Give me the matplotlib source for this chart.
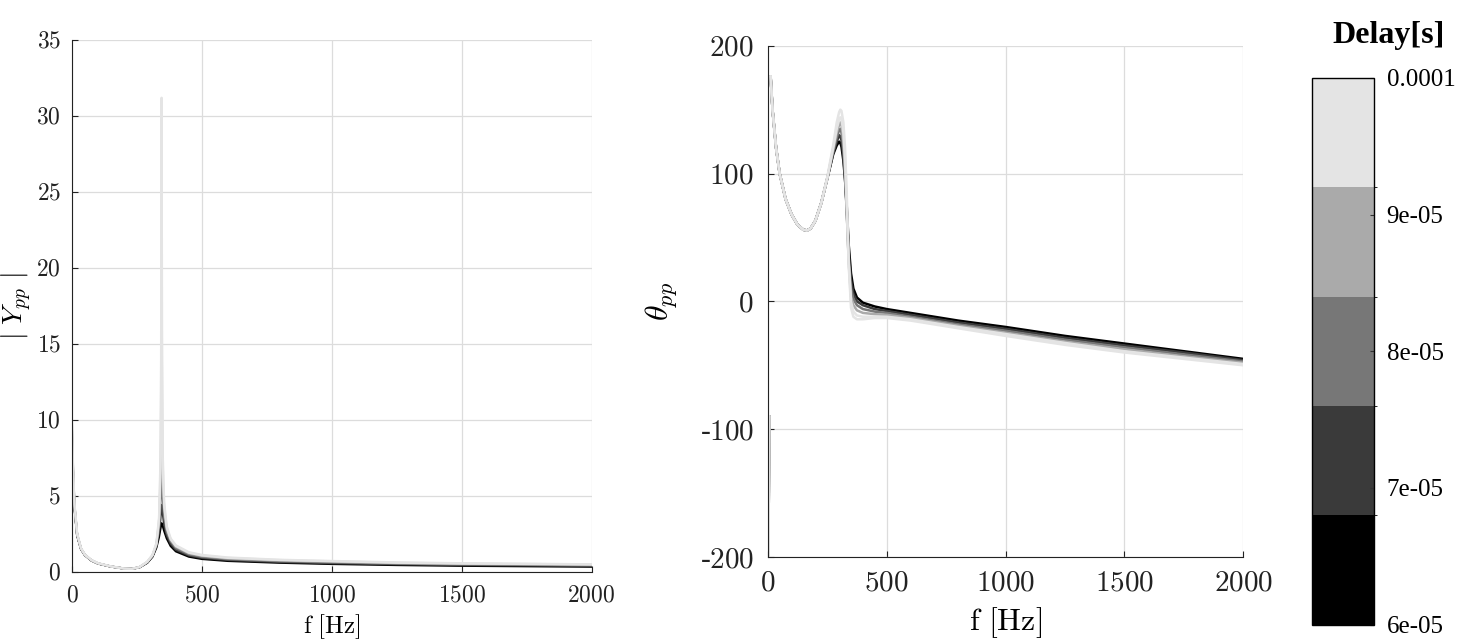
# frequency response for several delays: magnitude + phase, grey colorbar
import numpy as np
import matplotlib.pyplot as plt
from matplotlib.colors import ListedColormap, BoundaryNorm
from matplotlib.cm import ScalarMappable
from matplotlib.ticker import FuncFormatter

plt.rcParams['font.family'] = ['Liberation Serif', 'DejaVu Serif']
plt.rcParams['mathtext.fontset'] = 'cm'

delays = [6e-05, 7e-05, 8e-05, 9e-05, 9.5e-05, 1e-04]
band_colors = ['#000000', '#3a3a3a', '#777777', '#aaaaaa', '#e4e4e4']
cbar_ticks = [6e-05, 7e-05, 8e-05, 9e-05, 1e-04]
cbar_labels = ['6e-05', '7e-05', '8e-05', '9e-05', '0.0001']

# |Y_pp|
f_mag = [0, 5, 10, 20, 35, 50, 75, 100, 150, 200, 230, 260, 290, 310, 325, 335, 340, 343, 345,
         347, 350, 355, 365, 380, 400, 450, 500, 600, 800, 1000, 1250, 1500, 1750, 2000]
mag_6 = [8.8, 6.0, 4.2, 2.4, 1.5, 1.1, 0.75, 0.55, 0.35, 0.22, 0.2, 0.3, 0.6, 1.0, 1.6, 2.3, 2.8, 3.05, 3.2,
         3.15, 3.0, 2.7, 2.2, 1.7, 1.35, 1.0, 0.85, 0.72, 0.6, 0.52, 0.45, 0.4, 0.37, 0.34]
mag_7 = [9.0, 6.1, 4.25, 2.42, 1.5, 1.1, 0.75, 0.55, 0.35, 0.22, 0.2, 0.3, 0.62, 1.02, 1.7, 2.6, 3.4, 4.0, 4.4,
         4.3, 3.8, 3.1, 2.4, 1.85, 1.45, 1.08, 0.92, 0.78, 0.65, 0.57, 0.5, 0.45, 0.42, 0.39]
mag_8 = [9.3, 6.2, 4.3, 2.45, 1.52, 1.1, 0.76, 0.56, 0.35, 0.22, 0.2, 0.3, 0.63, 1.05, 1.75, 2.9, 4.2, 5.6, 6.6,
         6.0, 4.8, 3.6, 2.6, 2.0, 1.55, 1.15, 0.98, 0.83, 0.7, 0.62, 0.54, 0.49, 0.46, 0.43]
mag_9 = [9.6, 6.3, 4.35, 2.47, 1.53, 1.12, 0.77, 0.56, 0.36, 0.22, 0.2, 0.31, 0.65, 1.08, 1.8, 3.2, 5.5, 8.5, 11.3,
         9.0, 6.0, 4.1, 2.8, 2.1, 1.65, 1.22, 1.05, 0.88, 0.75, 0.67, 0.58, 0.53, 0.5, 0.47]
mag_95 = [9.8, 6.4, 4.4, 2.5, 1.54, 1.12, 0.77, 0.57, 0.36, 0.22, 0.2, 0.31, 0.66, 1.1, 1.85, 3.4, 6.2, 11.0, 16.5,
          12.0, 6.8, 4.3, 2.9, 2.15, 1.7, 1.26, 1.08, 0.92, 0.78, 0.7, 0.6, 0.55, 0.52, 0.49]
mag_10 = [10.1, 6.5, 4.45, 2.52, 1.55, 1.13, 0.78, 0.57, 0.36, 0.22, 0.2, 0.32, 0.68, 1.12, 1.9, 3.5, 7.0, 14.0, 31.2,
          16.0, 7.5, 4.6, 3.0, 2.2, 1.75, 1.3, 1.12, 0.95, 0.8, 0.72, 0.63, 0.57, 0.54, 0.5]

# theta_pp (nan = wrap gap)
f_ph = [3, 6, 9, 12, 20, 35, 50, 75, 100, 125, 150, 165, 180, 200, 225, 250, 275, 290, 300, 305,
        310, 318, 325, 332, 340, 350, 360, 375, 400, 450, 500, 600, 800, 1000, 1250, 1500, 1750, 2000]
ph_6 = [-200, -90, np.nan, 176, 150, 120, 100, 80, 68, 60, 56, 55.5, 57, 63, 77, 96, 115, 122, 125, 124,
        121, 110, 95, 75, 45, 22, 10, 3, -1, -4, -6, -9, -15, -20, -27, -33, -39, -45]
ph_7 = [-200, -90, np.nan, 176, 150, 120, 100, 80, 68, 60, 56, 55.5, 57, 63, 77, 96, 116, 125, 130, 129,
        126, 114, 96, 72, 40, 16, 6, 0, -3, -6, -7.5, -10.5, -16.5, -21.5, -28.5, -34.5, -40, -46]
ph_8 = [-200, -90, np.nan, 176, 150, 120, 100, 80, 68, 60, 56, 55.5, 57, 63, 77, 96, 117, 128, 134, 135,
        132, 120, 98, 70, 35, 10, 2, -3, -6, -8, -9, -12, -18, -23, -30, -36, -41.5, -47]
ph_9 = [-200, -90, np.nan, 176, 150, 120, 100, 80, 68, 60, 56, 55.5, 57, 63, 77, 96, 119, 132, 138, 140,
        138, 126, 104, 72, 32, 4, -3, -7, -9, -10, -10.5, -13, -19, -24.5, -31.5, -37.5, -43, -48]
ph_95 = [-200, -90, np.nan, 176, 150, 120, 100, 80, 68, 60, 56, 55.5, 57, 63, 77, 96, 120, 135, 142, 144,
         143, 132, 110, 76, 31, 0, -8, -11, -12, -12, -12, -14, -20, -25.5, -32.5, -39, -44, -49]
ph_10 = [-200, -90, np.nan, 176, 150, 120, 100, 80, 68, 60, 56, 55.5, 57, 63, 77, 97, 122, 140, 148, 150,
         149, 140, 120, 85, 30, -5, -12, -14, -14, -13, -13, -15, -21, -27, -34, -40, -45, -50]

mags = [mag_6, mag_7, mag_8, mag_9, mag_95, mag_10]
phases = [ph_6, ph_7, ph_8, ph_9, ph_95, ph_10]

cmap = ListedColormap(band_colors)
norm = BoundaryNorm(np.linspace(6e-05, 1e-04, 6), cmap.N)


def num_fmt(v, pos):
    s = '%g' % v
    if s.startswith('-'):
        return '-$' + s[1:] + '$'
    return '$' + s + '$'


fig = plt.figure(figsize=(14.68, 6.44), dpi=100)
ax1 = fig.add_axes([0.049, 0.112, 0.354, 0.826])
ax2 = fig.add_axes([0.523, 0.135, 0.324, 0.794])
cax = fig.add_axes([0.894, 0.030, 0.042, 0.849])

for d, m, p in zip(delays, mags, phases):
    c = cmap(norm(d))
    ax1.plot(f_mag, m, color=c, lw=1.6)
    ax2.plot(f_ph, p, color=c, lw=1.8)

for ax in (ax1, ax2):
    ax.set_xlim(0, 2000)
    ax.set_xticks([0, 500, 1000, 1500, 2000])
    ax.grid(True, color='#dcdcdc', lw=0.9)
    ax.set_axisbelow(True)
    for s in ('top', 'right'):
        ax.spines[s].set_visible(False)
    ax.spines['left'].set_color('#222222')
    ax.spines['bottom'].set_color('#222222')
    ax.tick_params(direction='in', length=4, color='#222222')
    ax.xaxis.set_major_formatter(FuncFormatter(num_fmt))
    ax.yaxis.set_major_formatter(FuncFormatter(num_fmt))

ax1.set_ylim(0, 35)
ax1.set_yticks(range(0, 36, 5))
ax1.tick_params(labelsize=17, colors='#222222')
ax1.tick_params(axis='x', pad=10)
ax1.tick_params(axis='y', pad=8)
ax1.set_xlabel(r'$\mathrm{f\ [Hz]}$', fontsize=18, labelpad=4)
ax1.set_ylabel(r'$|\ Y_{pp}\ |$', fontsize=20)
ax1.yaxis.set_label_coords(-0.073, 0.5)

ax2.set_ylim(-200, 200)
ax2.set_yticks([-200, -100, 0, 100, 200])
ax2.tick_params(labelsize=21, colors='#222222')
ax2.tick_params(axis='x', pad=10)
ax2.tick_params(axis='y', pad=10)
ax2.set_xlabel(r'$\mathrm{f\ [Hz]}$', fontsize=23, labelpad=6)
ax2.set_ylabel(r'$\theta_{pp}$', fontsize=23, labelpad=14)

cb = fig.colorbar(ScalarMappable(norm=norm, cmap=cmap), cax=cax)
cb.set_ticks(cbar_ticks)
cb.set_ticklabels(cbar_labels)
cb.ax.tick_params(labelsize=18, length=3, direction='in', color='#333333', pad=9)
cb.outline.set_linewidth(1.0)
fig.text(0.946, 0.945, 'Delay[s]', fontsize=23, fontweight='bold', ha='center', va='center')

fig.savefig('out.png', dpi=100)
